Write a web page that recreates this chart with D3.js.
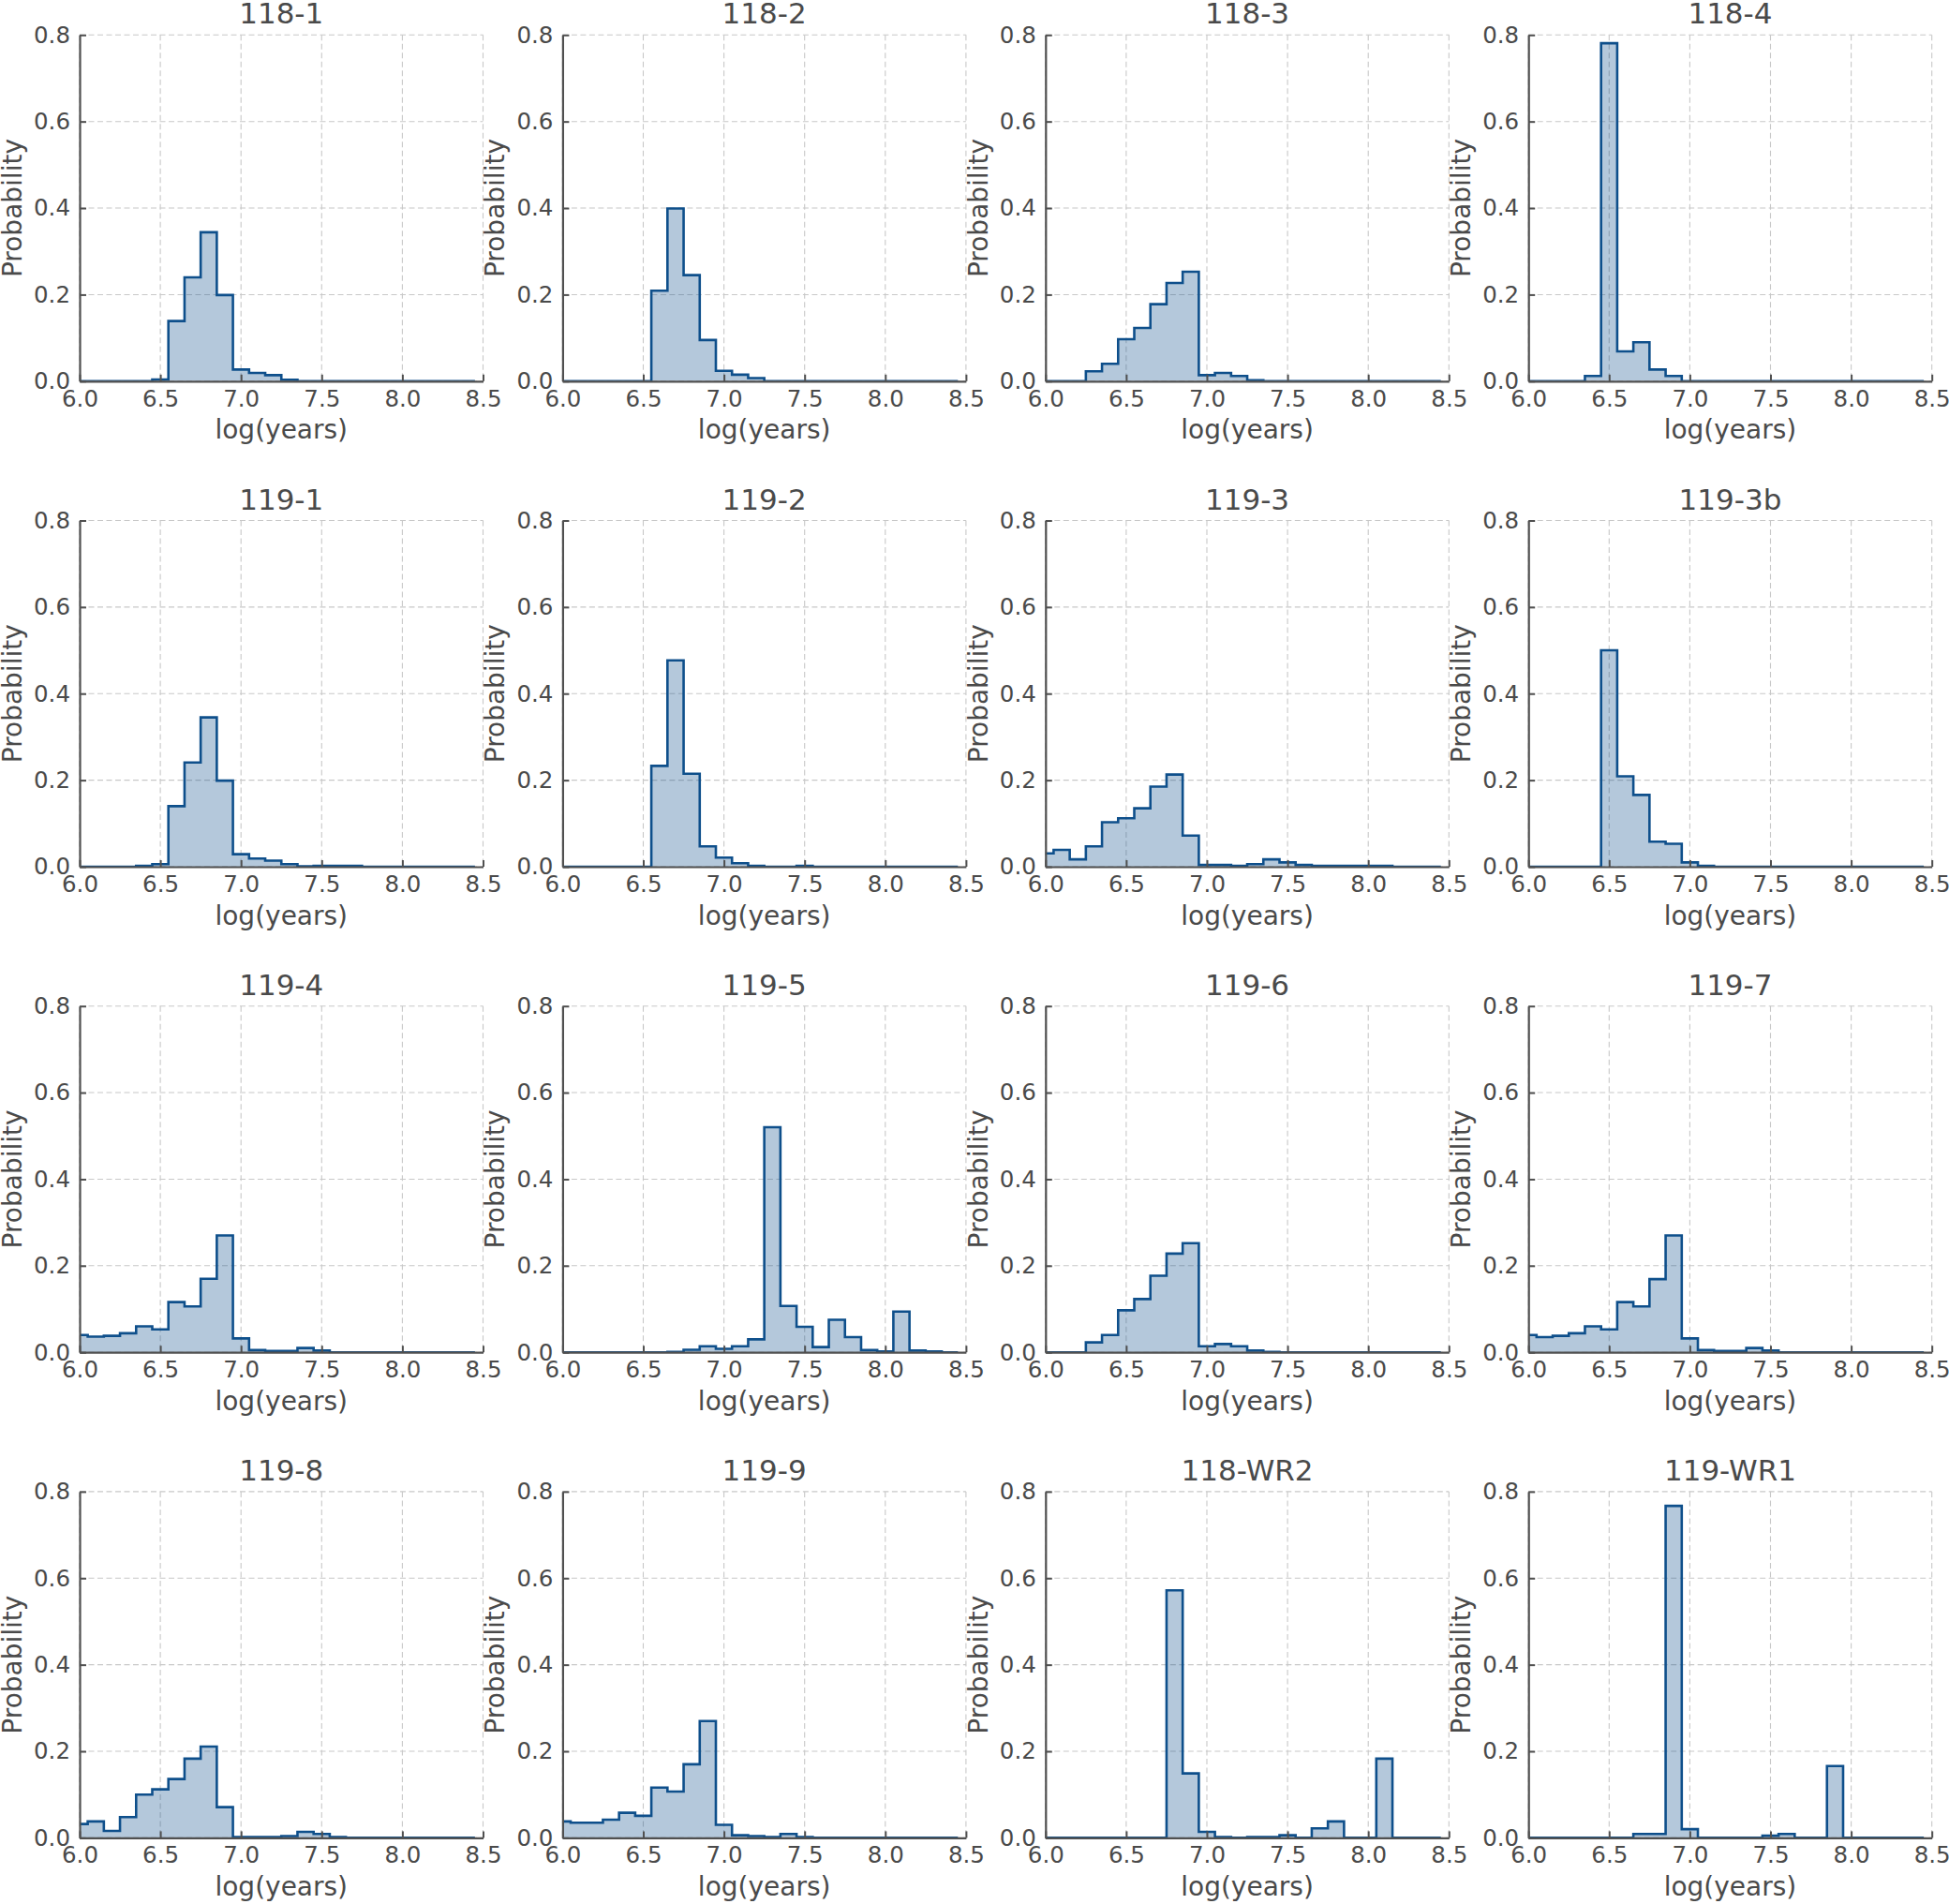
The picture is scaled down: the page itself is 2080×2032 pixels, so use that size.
<!DOCTYPE html>
<html>
<head>
<meta charset="utf-8">
<script src="https://cdn.jsdelivr.net/npm/d3@7"></script>
<style>
  html, body { margin: 0; padding: 0; background: #ffffff; }
  svg { display: block; font-family: "DejaVu Sans", sans-serif; }
</style>
</head>
<body>
<svg id="chart" width="2080" height="2032"></svg>
<script>
// ---- data ----
const binCenters = [6.0,6.1,6.2,6.3,6.4,6.5,6.6,6.7,6.8,6.9,7.0,7.1,7.2,7.3,7.4,7.5,7.6,7.7,7.8,7.9,8.0,8.1,8.2,8.3,8.4];
const binWidth = 0.1;
const xTicks = [6.0, 6.5, 7.0, 7.5, 8.0, 8.5];
const yTicks = [0.0, 0.2, 0.4, 0.6, 0.8];
const titles = ["118-1","118-2","118-3","118-4","119-1","119-2","119-3","119-3b","119-4","119-5","119-6","119-7","119-8","119-9","118-WR2","119-WR1"];

const p118_1  = [0,0,0,0,0, 0.004,0.139,0.240,0.344,0.199, 0.027,0.019,0.014,0.003,0, 0,0,0,0,0, 0,0,0,0,0];
const p118_2  = [0,0,0,0,0, 0,0.209,0.399,0.245,0.095, 0.024,0.015,0.007,0,0, 0,0,0,0,0, 0,0,0,0,0];
const p118_3  = [0,0,0,0.023,0.040, 0.097,0.123,0.178,0.227,0.253, 0.014,0.019,0.012,0.002,0, 0,0,0,0,0, 0,0,0,0,0];
const p118_4  = [0,0,0,0,0.012, 0.781,0.069,0.090,0.027,0.012, 0,0,0,0,0, 0,0,0,0,0, 0,0,0,0,0];
const p119_1  = [0,0,0,0,0.002, 0.006,0.140,0.241,0.345,0.199, 0.029,0.019,0.014,0.006,0.001, 0.002,0.002,0.002,0,0, 0,0,0,0,0];
const p119_2  = [0,0,0,0,0, 0,0.233,0.477,0.215,0.047, 0.021,0.008,0.002,0,0, 0.002,0,0,0,0, 0,0,0,0,0];
const p119_3  = [0.031,0.039,0.017,0.047,0.103, 0.112,0.135,0.185,0.213,0.072, 0.004,0.004,0.002,0.006,0.017, 0.010,0.004,0.002,0.002,0.002, 0.002,0.002,0,0,0];
const p119_3b = [0,0,0,0,0, 0.500,0.209,0.166,0.058,0.053, 0.010,0.002,0,0,0, 0,0,0,0,0, 0,0,0,0,0];
const p119_4  = [0.040,0.036,0.038,0.044,0.060, 0.053,0.116,0.106,0.170,0.270, 0.032,0.005,0.003,0.003,0.010, 0.004,0,0,0,0, 0,0,0,0,0];
const p119_5  = [0,0,0,0,0, 0,0,0.001,0.006,0.014, 0.008,0.014,0.030,0.520,0.107, 0.059,0.012,0.075,0.035,0.005, 0.002,0.094,0.004,0.002,0];
const p119_6  = [0,0,0,0.023,0.040, 0.097,0.123,0.177,0.228,0.252, 0.014,0.019,0.014,0.004,0.001, 0,0,0,0,0, 0,0,0,0,0];
const p119_7  = [0.040,0.035,0.038,0.044,0.060, 0.053,0.116,0.106,0.169,0.270, 0.032,0.005,0.003,0.003,0.010, 0.004,0,0,0,0, 0,0,0,0,0];
const p119_8  = [0.032,0.038,0.016,0.048,0.100, 0.112,0.136,0.183,0.211,0.071, 0.002,0.002,0.002,0.004,0.014, 0.009,0.002,0,0,0, 0,0,0,0,0];
const p119_9  = [0.038,0.035,0.035,0.042,0.058, 0.051,0.116,0.107,0.170,0.270, 0.030,0.006,0.004,0.002,0.009, 0.002,0,0,0,0, 0,0,0,0,0];
const p118_WR2= [0,0,0,0,0, 0,0,0,0.572,0.149, 0.014,0.002,0,0.002,0.002, 0.006,0,0.022,0.038,0, 0,0.183,0,0,0];
const p119_WR1= [0,0,0,0,0, 0,0,0.009,0.009,0.767, 0.020,0,0,0,0, 0.005,0.009,0,0,0.166, 0,0,0,0,0];

const series = [p118_1,p118_2,p118_3,p118_4,p119_1,p119_2,p119_3,p119_3b,p119_4,p119_5,p119_6,p119_7,p119_8,p119_9,p118_WR2,p119_WR1];

// ---- layout ----
const W = 430.5, H = 369.5;
const left0 = 85, top0 = 37.3, colStep = 515.4, rowStep = 518.2;
const textColor = "#4a4a4a", spineColor = "#505050";
const strokeColor = "#0e4f8b", fillColor = "rgba(14,79,139,0.31)";

const svg = d3.select("#chart");
svg.append("rect").attr("width", 2080).attr("height", 2032).attr("fill", "#fff");

svg.append("defs").append("clipPath").attr("id", "plotclip")
  .append("rect").attr("x", 0).attr("y", -10).attr("width", W).attr("height", H + 10);

const x = d3.scaleLinear().domain([6.0, 8.5]).range([0, W]);
const y = d3.scaleLinear().domain([0, 0.8]).range([H, 0]);

series.forEach((vals, i) => {
  const c = i % 4, r = Math.floor(i / 4);
  const g = svg.append("g").attr("transform", `translate(${left0 + c * colStep},${top0 + r * rowStep})`);

  // grid
  g.append("g").selectAll("line.h").data(yTicks).join("line")
    .attr("x1", 0).attr("x2", W).attr("y1", d => y(d)).attr("y2", d => y(d))
    .attr("stroke", "#c8c8c8").attr("stroke-width", 1.1).attr("stroke-dasharray", "6,3.5");
  g.append("g").selectAll("line.v").data(xTicks).join("line")
    .attr("y1", 0).attr("y2", H).attr("x1", d => x(d)).attr("x2", d => x(d))
    .attr("stroke", "#c8c8c8").attr("stroke-width", 1.1).attr("stroke-dasharray", "6,3.5");

  // histogram step points
  const pts = [];
  binCenters.forEach((bc, k) => {
    pts.push([bc - binWidth / 2, vals[k]]);
    pts.push([bc + binWidth / 2, vals[k]]);
  });
  const first = binCenters[0] - binWidth / 2, last = binCenters[binCenters.length - 1] + binWidth / 2;
  const outline = [[first, 0], ...pts, [last, 0]];

  const hg = g.append("g").attr("clip-path", "url(#plotclip)");
  hg.append("path")
    .attr("d", d3.area().x(d => x(d[0])).y0(y(0)).y1(d => y(d[1]))(outline))
    .attr("fill", fillColor).attr("stroke", "none");
  hg.append("path")
    .attr("d", d3.line().x(d => x(d[0])).y(d => y(d[1]))(outline))
    .attr("fill", "none").attr("stroke", strokeColor).attr("stroke-width", 2.6)
    .attr("stroke-linejoin", "miter");

  // axes
  const ax = g.append("g").attr("transform", `translate(0,${H})`)
    .call(d3.axisBottom(x).tickValues(xTicks).tickFormat(d3.format(".1f"))
      .tickSizeInner(-7).tickSizeOuter(0).tickPadding(9.6));
  const ay = g.append("g")
    .call(d3.axisLeft(y).tickValues(yTicks).tickFormat(d3.format(".1f"))
      .tickSizeInner(-7).tickSizeOuter(0).tickPadding(10));
  [ax, ay].forEach(a => {
    a.select(".domain").attr("stroke", spineColor).attr("stroke-width", 2.2);
    a.selectAll(".tick line").attr("stroke", spineColor).attr("stroke-width", 2);
    a.selectAll(".tick text").attr("fill", textColor).attr("font-size", 24.5)
      .attr("font-family", "DejaVu Sans");
  });

  // titles and labels
  g.append("text").attr("x", W / 2).attr("y", -12).attr("text-anchor", "middle")
    .attr("font-size", 31).attr("fill", textColor).text(titles[i]);
  g.append("text").attr("x", W / 2).attr("y", H + 61.5).attr("text-anchor", "middle")
    .attr("font-size", 28).attr("fill", textColor).text("log(years)");
  g.append("text").attr("transform", `translate(-62,${H / 2}) rotate(-90)`)
    .attr("text-anchor", "middle").attr("font-size", 28).attr("fill", textColor).text("Probability");
});
</script>
</body>
</html>
